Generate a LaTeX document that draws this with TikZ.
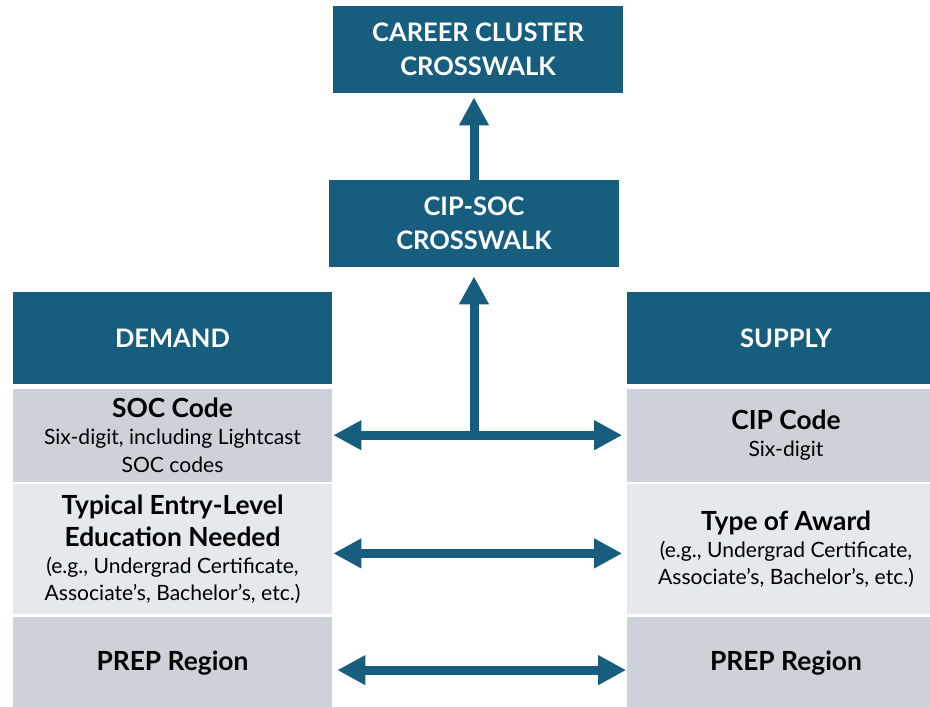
\documentclass[tikz,border=0pt]{standalone}
\usepackage{fontspec}
\setmainfont{Lato}
\usepackage{xcolor}
\usepackage{tikz}
\usetikzlibrary{positioning}
\usetikzlibrary{arrows.meta}
\definecolor{navy}{HTML}{175E7E}
\definecolor{rowgray}{HTML}{CDD2DA}
\definecolor{rowlight}{HTML}{E5E8EC}
\newcommand\titlefont{\fontsize{14.5}{19.3}\selectfont\bfseries}
\newcommand\bigfont{\fontsize{15}{18}\selectfont\bfseries}
\newcommand\notefont{\fontsize{12}{15.5}\selectfont}
\tikzset{>={Triangle[width=5.6mm,length=5.6mm]}}

\begin{document}
\begin{tikzpicture}[x=0.2mm, y=-0.2mm, bluebox/.style={fill=navy, text=white, font=\titlefont, align=center, inner sep=0pt, minimum width=58mm, minimum height=17.4mm}, headbox/.style={fill=navy, text=white, font=\titlefont, inner sep=0pt, minimum width=63.8mm, minimum height=18.4mm}, rowbox/.style={font=\notefont, text=black, align=center, inner sep=0pt, minimum width=63.8mm}, link/.style={draw=navy, line width=1.8mm}]

    \useasboundingbox (0,0) rectangle (930,707);
    \clip (0,0) rectangle (930,707);

    %Nodes
    \node[bluebox](career) at (478,49.5){CAREER CLUSTER\\CROSSWALK};
    \node[bluebox](cipsoc) at (474,223.5){CIP-SOC\\CROSSWALK};
    \node[headbox](demand) at (172.5,338){DEMAND};
    \node[headbox](supply) at (786,338){SUPPLY};
    \node[rowbox, fill=rowgray, minimum height=18.6mm](soc)[below=0.8mm of demand]{{\bigfont SOC Code}\\Six-digit, including Lightcast\\SOC codes};
    \node[rowbox, fill=rowlight, minimum height=26mm](typ)[below=0.4mm of soc]{{\bigfont Typical Entry-Level}\\[2.6pt]{\bigfont Education Needed}\\(e.g., Undergrad Certificate,\\Associate’s, Bachelor’s, etc.)};
    \node[rowbox, fill=rowgray, minimum height=18.4mm](prep)[below=0.4mm of typ]{{\bigfont PREP Region}};
    \node[rowbox, fill=rowgray, minimum height=18.6mm](cip)[below=0.8mm of supply]{{\bigfont CIP Code}\\Six-digit};
    \node[rowbox, fill=rowlight, minimum height=26mm](award)[below=0.4mm of cip]{{\bigfont Type of Award}\\(e.g., Undergrad Certificate,\\Associate’s, Bachelor’s, etc.)};
    \node[rowbox, fill=rowgray, minimum height=18.4mm](prepr)[below=0.4mm of award]{{\bigfont PREP Region}};
    \coordinate (hub) at (cipsoc.south |- soc.east);

    %Lines
    \draw[link, ->, shorten >=0.8mm] (cipsoc.north) -- (cipsoc.north |- career.south);
    \draw[link, ->, shorten >=1.8mm] (hub) -- (cipsoc.south);
    \draw[link, <->, shorten <=0.2mm, shorten >=0.8mm] (soc.east) -- (soc.east -| cip.west);
    \draw[link, <->, shorten <=0.2mm, shorten >=0.8mm] ([yshift=-0.8mm]typ.east) -- ([yshift=-0.8mm]typ.east -| award.west);
    \draw[link, <->, shorten <=1mm] ([yshift=-1.4mm]prep.east) -- ([yshift=-1.4mm]prep.east -| prepr.west);

\end{tikzpicture}
\end{document}
